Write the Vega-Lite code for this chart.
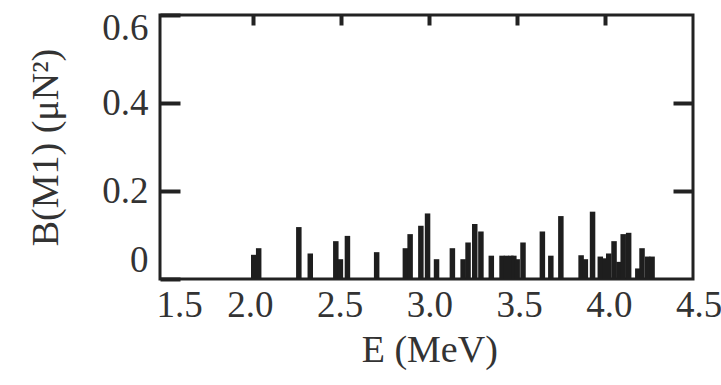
{
  "$schema": "https://vega.github.io/schema/vega-lite/v6.json",
  "width": 533,
  "height": 264,
  "autosize": {"type": "none"},
  "padding": {"left": 160, "top": 15, "right": 28, "bottom": 106},
  "background": "white",
  "config": {
    "view": {"stroke": "#222222", "strokeWidth": 3},
    "axis": {
      "labelFont": "Liberation Serif",
      "titleFont": "Liberation Serif",
      "labelFontSize": 37,
      "titleFontSize": 38,
      "labelColor": "#333333",
      "titleColor": "#333333",
      "titleFontWeight": "normal",
      "grid": false,
      "domain": false,
      "tickColor": "#222222",
      "tickWidth": 4
    }
  },
  "data": {
    "values": [
      {"E": 2.004, "B": 0.055},
      {"E": 2.032, "B": 0.070},
      {"E": 2.260, "B": 0.118},
      {"E": 2.325, "B": 0.058},
      {"E": 2.470, "B": 0.086},
      {"E": 2.496, "B": 0.045},
      {"E": 2.536, "B": 0.098},
      {"E": 2.702, "B": 0.061},
      {"E": 2.865, "B": 0.070},
      {"E": 2.892, "B": 0.102},
      {"E": 2.953, "B": 0.121},
      {"E": 2.991, "B": 0.149},
      {"E": 3.042, "B": 0.045},
      {"E": 3.132, "B": 0.070},
      {"E": 3.193, "B": 0.045},
      {"E": 3.221, "B": 0.083},
      {"E": 3.259, "B": 0.125},
      {"E": 3.294, "B": 0.108},
      {"E": 3.353, "B": 0.053},
      {"E": 3.414, "B": 0.053},
      {"E": 3.439, "B": 0.053},
      {"E": 3.464, "B": 0.053},
      {"E": 3.481, "B": 0.053},
      {"E": 3.500, "B": 0.045},
      {"E": 3.533, "B": 0.083},
      {"E": 3.643, "B": 0.108},
      {"E": 3.691, "B": 0.053},
      {"E": 3.748, "B": 0.143},
      {"E": 3.863, "B": 0.054},
      {"E": 3.887, "B": 0.045},
      {"E": 3.928, "B": 0.153},
      {"E": 3.972, "B": 0.051},
      {"E": 3.998, "B": 0.047},
      {"E": 4.020, "B": 0.058},
      {"E": 4.050, "B": 0.086},
      {"E": 4.078, "B": 0.039},
      {"E": 4.102, "B": 0.102},
      {"E": 4.133, "B": 0.105},
      {"E": 4.185, "B": 0.024},
      {"E": 4.209, "B": 0.070},
      {"E": 4.241, "B": 0.051},
      {"E": 4.266, "B": 0.051}
    ]
  },
  "layer": [
    {
      "mark": {"type": "bar", "size": 5.5, "color": "#1e1e1e"},
      "encoding": {
        "x": {
          "field": "E",
          "type": "quantitative",
          "scale": {"domain": [1.5, 4.47], "nice": false, "zero": false},
          "axis": {
            "orient": "top",
            "values": [2, 2.5, 3, 3.5, 4],
            "tickSize": -10,
            "labels": false,
            "title": null
          }
        },
        "y": {
          "field": "B",
          "type": "quantitative",
          "scale": {"domain": [0, 0.6], "nice": false},
          "axis": {
            "orient": "left",
            "values": [0, 0.2, 0.4, 0.6],
            "format": "~g",
            "tickSize": -20,
            "labelPadding": 32,
            "labelFlush": true,
            "labelOffset": {"condition": {"test": "datum.value == 0.6", "value": -5}, "value": 0},
            "title": "B(M1) (μN²)",
            "titlePadding": 36
          }
        }
      }
    },
    {
      "mark": {"type": "point", "opacity": 0},
      "encoding": {
        "x": {
          "field": "E",
          "type": "quantitative",
          "scale": {"domain": [1.5, 4.5], "range": [0, 538.5], "nice": false, "zero": false},
          "axis": {
            "orient": "bottom",
            "values": [1.5, 2, 2.5, 3, 3.5, 4, 4.5],
            "format": ".1f",
            "ticks": false,
            "labelPadding": 8,
            "labelFlush": false,
            "labelAlign": {"condition": {"test": "datum.value == 1.5", "value": "left"}, "value": "center"},
            "labelOffset": {"condition": {"test": "datum.value == 1.5", "value": -4}, "value": 0},
            "title": "E (MeV)",
            "titlePadding": 8
          }
        },
        "y": {
          "field": "B",
          "type": "quantitative",
          "axis": {
            "orient": "right",
            "values": [0.2, 0.4],
            "tickSize": -20,
            "labels": false,
            "title": null
          }
        }
      }
    }
  ],
  "resolve": {
    "scale": {"x": "independent"},
    "axis": {"x": "independent", "y": "independent"}
  }
}
